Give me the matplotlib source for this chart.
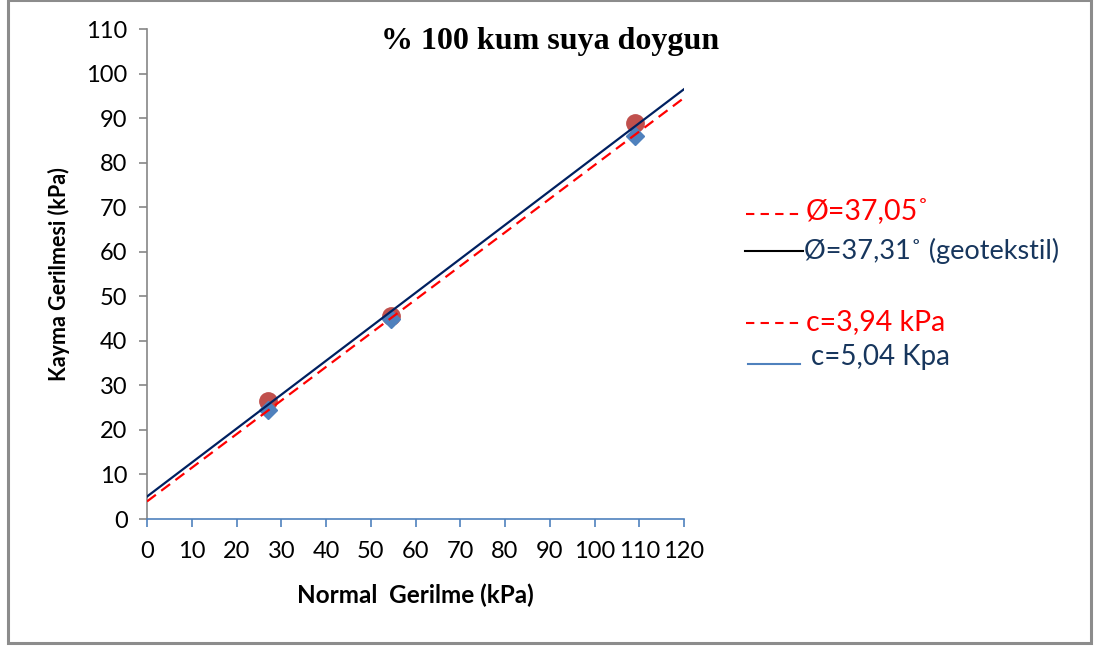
import matplotlib
matplotlib.use('Agg')
import matplotlib.pyplot as plt
from matplotlib.patches import Rectangle
from matplotlib.lines import Line2D
import numpy as np

# measured points (kPa)
normal = [27, 54.5, 109]
shear_sand = [26.5, 45.6, 88.8]      # circles
shear_geo = [24.4, 45.0, 85.9]       # diamonds

# fitted envelopes
phi_sand, c_sand = 37.05, 3.94
phi_geo, c_geo = 37.31, 5.04
x_line = [0, 120]

legend_texts = ['Ø=37,05˚', 'Ø=37,31˚ (geotekstil)', 'c=3,94 kPa', 'c=5,04 Kpa']

RED = '#FF0000'
NAVY = '#002060'
NAVY_TXT = '#17365D'
BLUE = '#4F81BD'
BROWN = '#C0504D'

plt.rcParams['font.family'] = ['Lato', 'DejaVu Sans']

fig = plt.figure(figsize=(10.95, 6.48), dpi=100)
ax = fig.add_axes([147 / 1095, 1 - 519 / 648, 537 / 1095, 490 / 648])

ax.plot(normal, shear_sand, 'o', color=BROWN, markersize=12.5, zorder=2)
ax.plot(normal, shear_geo, 'D', color=BLUE, markersize=9.5, zorder=3)

xl = np.array(x_line, dtype=float)
ax.plot(xl, c_geo + np.tan(np.radians(phi_geo)) * xl, '-', color=NAVY, lw=1.6, zorder=4)
ax.plot(xl, c_sand + np.tan(np.radians(phi_sand)) * xl, '--', color=RED, lw=1.6,
        dashes=(5, 3), zorder=5)

ax.set_xlim(0, 120)
ax.set_ylim(0, 110)
ax.set_xticks(range(0, 121, 10))
ax.set_yticks(range(0, 111, 10))
for s in ['top', 'right']:
    ax.spines[s].set_visible(False)
ax.spines['left'].set_color('#868686')
ax.spines['bottom'].set_color(BLUE)
ax.spines['left'].set_linewidth(1.2)
ax.spines['bottom'].set_linewidth(1.2)
ax.tick_params(axis='y', colors='#868686', labelcolor='black', labelsize=17, length=6, width=1.2, pad=8)
ax.tick_params(axis='x', colors=BLUE, labelcolor='black', labelsize=17, length=6, width=1.2, pad=10)

ax.set_xlabel('Normal  Gerilme (kPa)', fontsize=17.5, fontweight='bold', labelpad=15)
ax.set_ylabel('Kayma Gerilmesi (kPa)', fontsize=15.5, fontweight='bold', labelpad=12)

fig.text(550 / 1095, 1 - 42 / 648, '% 100 kum suya doygun', family='Liberation Serif',
         fontweight='bold', fontsize=23, ha='center', va='center')

# hand-made legend on the right
def fy(py):
    return 1 - py / 648

def fx(px):
    return px / 1095

fig.add_artist(Line2D([fx(746), fx(800)], [fy(214), fy(214)], color=RED, lw=1.5, dashes=(4, 3)))
fig.add_artist(Line2D([fx(745), fx(803)], [fy(251), fy(251)], color='black', lw=1.5))
fig.add_artist(Line2D([fx(746), fx(800)], [fy(323), fy(323)], color=RED, lw=1.5, dashes=(4, 3)))
fig.add_artist(Line2D([fx(748), fx(800)], [fy(364), fy(364)], color=BLUE, lw=1.5))

fig.text(fx(806), fy(212), legend_texts[0], color=RED, fontsize=20.5, va='center')
fig.text(fx(804), fy(251), legend_texts[1], color=NAVY_TXT, fontsize=19.5, va='center')
fig.text(fx(806), fy(322), legend_texts[2], color=RED, fontsize=20.5, va='center')
fig.text(fx(811), fy(357), legend_texts[3], color=NAVY_TXT, fontsize=20, va='center')

# outer frame
fig.add_artist(Rectangle((fx(8), fy(643)), fx(1091) - fx(8), fy(0) - fy(643),
                         fill=False, edgecolor='#8C8C8C', lw=2.2, transform=fig.transFigure))

fig.savefig('out.png', dpi=100)
